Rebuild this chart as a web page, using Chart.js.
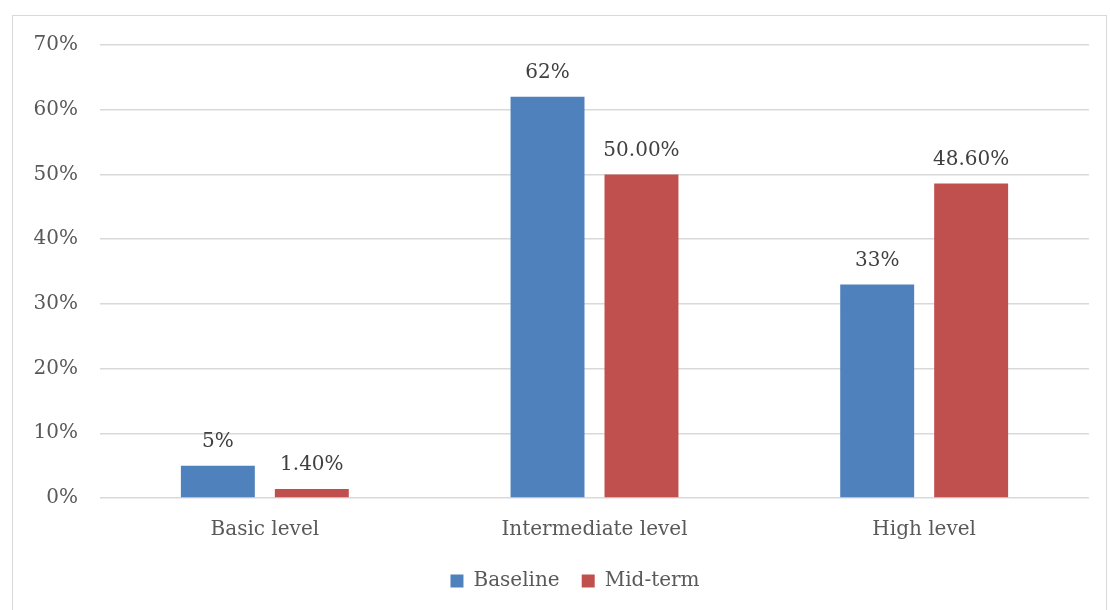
<!DOCTYPE html>
<html>
<head>
<meta charset="utf-8">
<script src="https://cdn.jsdelivr.net/npm/chart.js@4.4.1/dist/chart.umd.min.js"></script>
<style>
  body { margin: 0; background: #fff; }
  #box {
    position: absolute; left: 12px; top: 15px;
    width: 1095px; height: 600px;
    border: 1px solid #d9d9d9; box-sizing: border-box;
  }
  #chart { position: absolute; left: 0; top: 0; }
</style>
</head>
<body>
<div id="box"><canvas id="chart" width="1093" height="598"></canvas></div>
<script>
//CHART DATA
var categories = ["Basic level", "Intermediate level", "High level"];
var baseline = [5, 62, 33];
var midterm = [1.4, 50, 48.6];
var yTicks = [0, 10, 20, 30, 40, 50, 60, 70];

var FONT = "'DejaVu Serif', serif";
var TEXT = "#595959";

//VALUE LABELS ABOVE BARS
var barLabels = {
  id: "barLabels",
  afterLayout: function (chart) {
    // excel puts the legend a bit right of centre
    chart.legend.left += 24;
    chart.legend.right += 24;
  },
  afterDatasetsDraw: function (chart) {
    var ctx = chart.ctx;
    ctx.save();
    ctx.font = "20px " + FONT;
    ctx.fillStyle = "#404040";
    ctx.textAlign = "center";
    ctx.textBaseline = "bottom";
    chart.data.datasets.forEach(function (ds, i) {
      chart.getDatasetMeta(i).data.forEach(function (bar, j) {
        var txt = ds.data[j].toFixed(ds.decimals) + "%";
        ctx.fillText(txt, bar.x, bar.y - 14);
      });
    });
    ctx.restore();
  }
};

var config = {
  type: "bar",
  data: {
    labels: categories,
    datasets: [
      { label: "Baseline", data: baseline, decimals: 0, backgroundColor: "#4F81BD" },
      { label: "Mid-term", data: midterm, decimals: 2, backgroundColor: "#C0504D" }
    ]
  },
  options: {
    responsive: false,
    animation: false,
    categoryPercentage: 0.57,
    barPercentage: 0.787,
    layout: { padding: { top: 29, right: 17, bottom: 13, left: 0 } },
    plugins: {
      tooltip: { enabled: false },
      legend: {
        position: "bottom",
        labels: {
          font: { family: FONT, size: 20 },
          color: TEXT,
          boxWidth: 13,
          boxHeight: 13,
          padding: 22
        }
      }
    },
    scales: {
      x: {
        grid: { display: false },
        border: { display: false },
        ticks: { font: { family: FONT, size: 20 }, color: TEXT, padding: 12 },
        afterFit: function (s) { s.height = 51; }
      },
      y: {
        min: 0,
        max: 70,
        afterBuildTicks: function (s) { s.ticks = yTicks.map(function (v) { return { value: v }; }); },
        grid: { color: "#d9d9d9", lineWidth: 1.5, drawTicks: false },
        border: { display: false },
        ticks: {
          font: { family: FONT, size: 20 },
          color: TEXT,
          padding: 22,
          callback: function (v) { return v + "%"; }
        },
        afterFit: function (s) {
          s.width = 87;
          s.paddingTop = 0;
        }
      }
    }
  },
  plugins: [barLabels]
};

window.onload = function () {
  var ctx = document.getElementById("chart").getContext("2d");
  window.myBar = new Chart(ctx, config);
};
</script>
</body>
</html>
